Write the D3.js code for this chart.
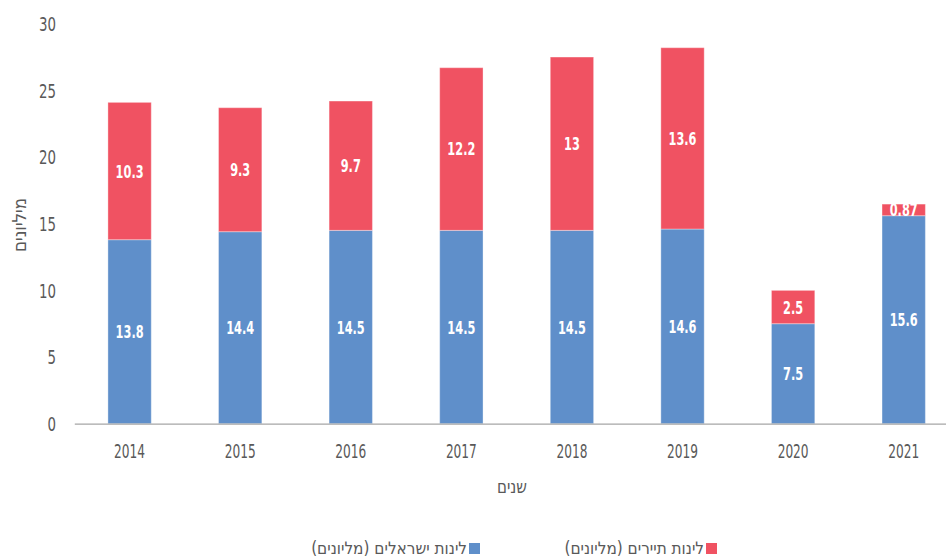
<!DOCTYPE html>
<html lang="he">
<head>
<meta charset="utf-8">
<script src="https://cdn.jsdelivr.net/npm/d3@7/dist/d3.min.js"></script>
<style>
  html, body { margin: 0; padding: 0; background: #fff; }
  svg { display: block; }
  text { font-family: "Liberation Sans Narrow", "DejaVu Sans Condensed", "Liberation Sans", sans-serif; }
</style>
</head>
<body>
<svg id="chart" width="946" height="558"></svg>
<script>
const years = ["2014", "2015", "2016", "2017", "2018", "2019", "2020", "2021"];
const israeliNights = [13.8, 14.4, 14.5, 14.5, 14.5, 14.6, 7.5, 15.6];
const touristNights = [10.3, 9.3, 9.7, 12.2, 13, 13.6, 2.5, 0.87];
const yTicks = [0, 5, 10, 15, 20, 25, 30];
const seriesNames = ["לינות ישראלים (מליונים)", "לינות תיירים (מליונים)"];
const yTitle = "מיליונים";
const xTitle = "שנים";

const colors = ["#5F8FCA", "#F05262"];
const svg = d3.select("#chart");
const plot = { left: 74.3, right: 959, top: 23.7, bottom: 423.7 };

const x = d3.scaleBand().domain(years).range([plot.left, plot.right]).paddingInner(0.608).paddingOuter(0.304);
const y = d3.scaleLinear().domain([0, 30]).range([plot.bottom, plot.top]);

const rows = years.map((yr, i) => ({ year: yr, israeli: israeliNights[i], tourist: touristNights[i] }));
const stacked = d3.stack().keys(["israeli", "tourist"])(rows);

// condense text horizontally around its anchor point to mimic a narrow font
function condense(sel, sample, targetW) {
  const probe = sel.filter((d, i) => i === 0);
  const orig = probe.text();
  probe.text(sample);
  const w = probe.node().getComputedTextLength();
  probe.text(orig);
  const sx = Math.min(1, targetW / w);
  sel.each(function () {
    const t = d3.select(this);
    const ax = +t.attr("x") || 0, ay = +t.attr("y") || 0;
    const pre = t.attr("data-pre") || "";
    t.attr("transform", `${pre} translate(${ax},${ay}) scale(${sx},1) translate(${-ax},${-ay})`);
  });
}

// y axis labels
const yAxis = d3.axisLeft(y).tickValues(yTicks).tickSize(0).tickPadding(0);
const yg = svg.append("g").attr("transform", `translate(56,0)`).call(yAxis);
yg.select(".domain").remove();
const yText = yg.selectAll("text").attr("fill", "#595959").attr("font-size", 19).attr("dy", "0.36em");
condense(yText, "30", 17);

// bars
const layers = svg.append("g").selectAll("g").data(stacked).join("g")
  .attr("fill", (d, i) => colors[i]);
layers.selectAll("rect").data(d => d).join("rect")
  .attr("x", d => x(d.data.year))
  .attr("width", x.bandwidth())
  .attr("y", d => y(d[1]))
  .attr("height", d => y(d[0]) - y(d[1]))
  .attr("stroke", "#ffffff").attr("stroke-opacity", 0.35).attr("stroke-width", 1);

// data labels
const lbl = svg.append("g");
stacked.forEach((layer, li) => {
  lbl.selectAll(null).data(layer).join("text")
    .attr("class", "dl")
    .attr("x", d => x(d.data.year) + x.bandwidth() / 2)
    .attr("y", d => (y(d[0]) + y(d[1])) / 2)
    .attr("dy", "0.36em")
    .attr("text-anchor", "middle")
    .attr("fill", "#ffffff")
    .attr("font-weight", "bold")
    .attr("font-size", 18)
    .text((d, i) => li === 0 ? israeliNights[i] : touristNights[i]);
});
condense(lbl.selectAll("text.dl"), "10.3", 28);

// x axis
const xAxis = d3.axisBottom(x).tickSize(0).tickPadding(0);
const xg = svg.append("g").attr("transform", `translate(0,${plot.bottom})`).call(xAxis);
xg.select(".domain").attr("stroke", "#a6a6a6").attr("stroke-width", 1.3);
const xText = xg.selectAll("text").attr("fill", "#595959").attr("font-size", 19).attr("dy", "0.36em").attr("y", 27);
condense(xText, "2014", 31);

// axis titles
const xt = svg.append("text").attr("x", 512).attr("y", 486).attr("dy", "0.36em").attr("text-anchor", "middle")
  .attr("fill", "#595959").attr("font-size", 19).text(xTitle);
condense(xt, xTitle, 30);
const ytTitle = svg.append("text").attr("x", 0).attr("y", 0).attr("dy", "0.36em")
  .attr("text-anchor", "middle").attr("fill", "#595959").attr("font-size", 19)
  .attr("data-pre", "translate(19,225) rotate(-90)").text(yTitle);
condense(ytTitle, yTitle, 54);

// legend (RTL: square at right of text)
const legendItems = [
  { name: seriesNames[1], color: colors[1], sqX: 706, w: 141 },
  { name: seriesNames[0], color: colors[0], sqX: 469, w: 157 }
];
const lg = svg.append("g");
legendItems.forEach(it => {
  lg.append("rect").attr("x", it.sqX).attr("y", 543).attr("width", 11).attr("height", 11).attr("fill", it.color);
  const t = lg.append("text").attr("x", it.sqX - 2).attr("y", 547.5).attr("dy", "0.36em")
    .attr("text-anchor", "start").attr("direction", "rtl").attr("fill", "#595959").attr("font-size", 17).text(it.name);
  condense(t, it.name, it.w);
});
</script>
</body>
</html>
